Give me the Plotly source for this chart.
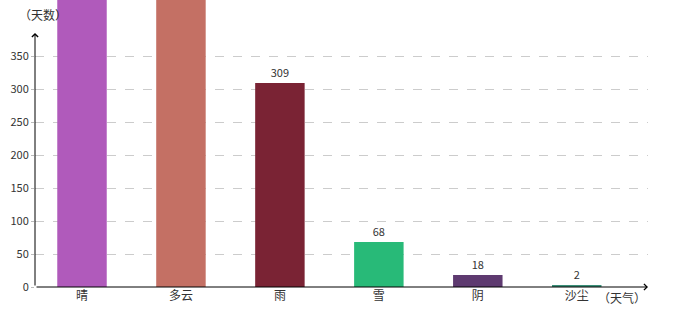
import plotly.graph_objects as go

categories = ["晴", "多云", "雨", "雪", "阴", "沙尘"]
days = [1120, 860, 309, 68, 18, 2]
colors = ["#B05ABB", "#C47064", "#7A2334", "#28BA78", "#5E3A70", "#3A8F78"]
y_ticks = [0, 50, 100, 150, 200, 250, 300, 350]

font = "Noto Sans CJK SC"
ymax = 287 / 0.66
xr = [-0.475, 5.72]

# labels of bars that run off the top of the chart are not visible
labels = [str(v) if v < ymax - 20 else "" for v in days]

fig = go.Figure()
fig.add_trace(go.Bar(
    x=list(range(len(categories))), y=days, width=0.5,
    marker=dict(color=colors, line=dict(width=0)),
    text=labels, textposition="outside",
    textfont=dict(family=font, size=11, color="#333"),
    cliponaxis=True,
))

fig.update_layout(
    width=680, height=320,
    margin=dict(l=35, r=32, t=0, b=33),
    plot_bgcolor="white", paper_bgcolor="white",
    showlegend=False,
    xaxis=dict(range=xr, tickmode="array", tickvals=list(range(len(categories))),
               ticktext=categories, showgrid=False, zeroline=False, showline=False,
               tickfont=dict(family=font, size=12, color="#333"), ticklen=0),
    yaxis=dict(range=[0, ymax], tickmode="array", tickvals=y_ticks,
               ticktext=[str(t) for t in y_ticks],
               showgrid=True, gridcolor="#cccccc", griddash="dash", gridwidth=1,
               zeroline=False, showline=False,
               ticks="outside", ticklen=3, tickcolor="#bbbbbb",
               tickfont=dict(family=font, size=11, color="#333")),
)

# y axis arrow
fig.add_annotation(x=xr[0], y=(287 - 33) / 0.66, xref="x", yref="y",
                   ax=0, ay=254, axref="pixel", ayref="pixel",
                   showarrow=True, arrowhead=4, arrowsize=1.2, arrowwidth=1,
                   arrowcolor="black", text="")
# x axis arrow
fig.add_annotation(x=xr[1], y=0, xref="x", yref="y",
                   ax=-613, ay=0, axref="pixel", ayref="pixel",
                   showarrow=True, arrowhead=4, arrowsize=1.2, arrowwidth=1,
                   arrowcolor="black", text="")

fig.add_annotation(xref="paper", yref="paper", x=-0.03, y=0.951,
                   text="（天数）", showarrow=False, xanchor="left", yanchor="middle",
                   font=dict(family=font, size=12, color="#333"))
fig.add_annotation(xref="paper", yref="paper", x=0.958, y=-0.038,
                   text="（天气）", showarrow=False, xanchor="center", yanchor="middle",
                   font=dict(family=font, size=12, color="#333"))

fig.write_html("out.html")
